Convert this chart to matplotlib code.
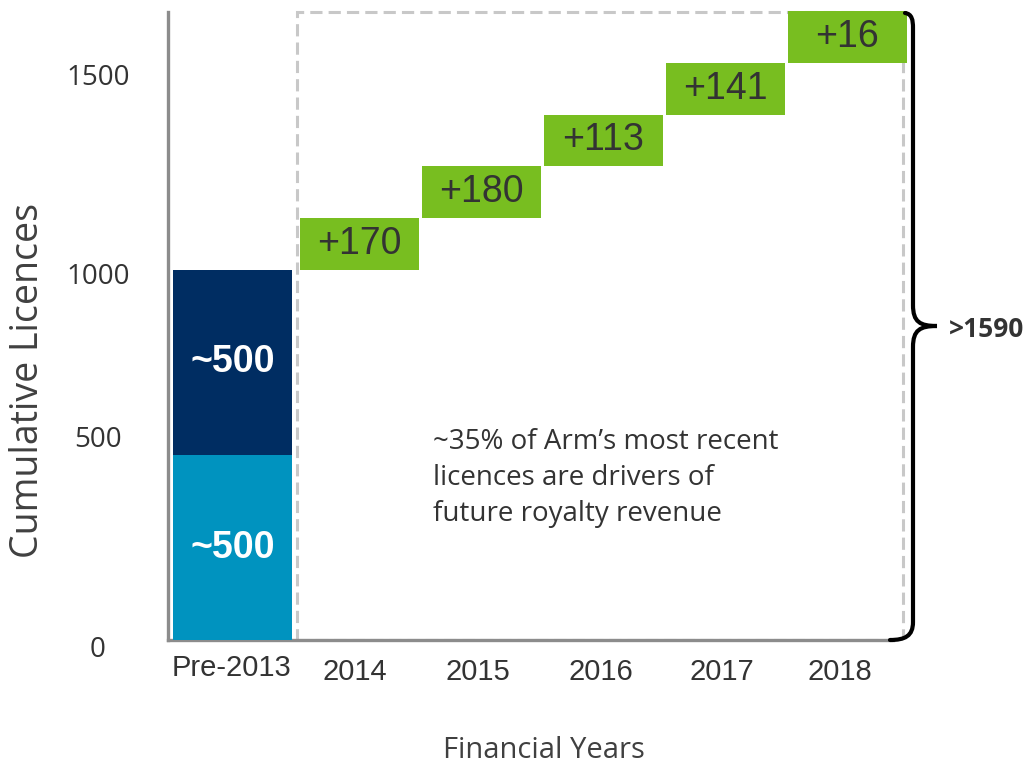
import matplotlib.pyplot as plt
import numpy as np
from matplotlib.patches import Rectangle, PathPatch
from matplotlib.path import Path

categories = ["Pre-2013", "2014", "2015", "2016", "2017", "2018"]
pre_lower = 500
pre_upper = 500
yearly_adds = [170, 180, 113, 141, 16]
total_label = ">1590"
note = "~35% of Arm\u2019s most recent\nlicences are drivers of\nfuture royalty revenue"

NAVY = "#002D62"
CYAN = "#0093BF"
GREEN = "#78BE20"
AXIS_GRAY = "#8C8C8C"
TEXT = "#333333"

W, H = 1035, 767
PX_PER_UNIT = 0.37      # vertical pixels per licence
PX_PER_CAT = 122        # horizontal pixels per category
STEP = 140              # display height of each yearly box (boxes are uniform)

fig = plt.figure(figsize=(W / 100, H / 100), dpi=100)
ax_l, ax_r, ax_t, ax_b = 168, 910, 8, 640
ax = fig.add_axes([ax_l / W, 1 - ax_b / H, (ax_r - ax_l) / W, (ax_b - ax_t) / H])
x0 = -(232.5 - ax_l) / PX_PER_CAT
ax.set_xlim(x0, x0 + (ax_r - ax_l) / PX_PER_CAT)
ax.set_ylim(0, (ax_b - ax_t) / PX_PER_UNIT)

xpos = np.r_[0, np.arange(1, len(categories)) + 0.04]

# pre-2013 stacked bar
ax.bar(xpos[0], pre_lower, width=0.98, color=CYAN, zorder=3)
ax.bar(xpos[0], pre_upper, bottom=pre_lower, width=0.98, color=NAVY, zorder=3)
ax.text(xpos[0], pre_lower / 2, f"~{pre_lower}", ha="center", va="center",
        color="white", fontsize=27, fontweight="bold", family="Liberation Sans", zorder=4)
ax.text(xpos[0], pre_lower + pre_upper / 2, f"~{pre_upper}", ha="center", va="center",
        color="white", fontsize=27, fontweight="bold", family="Liberation Sans", zorder=4)

# yearly additions, drawn as a uniform staircase
start = pre_lower + pre_upper
bottoms = start + STEP * np.arange(len(yearly_adds))
ax.bar(xpos[1:], STEP, bottom=bottoms, width=0.98, color=GREEN, zorder=3)
for x, b, v in zip(xpos[1:], bottoms, yearly_adds):
    ax.text(x, b + STEP / 2, f"+{v}", ha="center", va="center", color=TEXT,
            fontsize=27, family="Liberation Sans", zorder=4)

# dashed frame around the recent years
top = bottoms[-1] + STEP
ax.add_patch(Rectangle((0.529, 0), 5.496 - 0.529, top - 3, fill=False,
                       ec="#C8C8C8", lw=2.2, ls=(0, (4, 2)), zorder=2))

# axes styling
for s in ["top", "right"]:
    ax.spines[s].set_visible(False)
for s in ["left", "bottom"]:
    ax.spines[s].set_color(AXIS_GRAY)
    ax.spines[s].set_linewidth(2.4)
ax.spines["left"].set_bounds(0, (ax_b - 12) / PX_PER_UNIT)
ax.spines["bottom"].set_bounds(x0, (893 - 232.5) / PX_PER_CAT)
ax.set_xticks([])
ax.set_yticks([])

# y labels (placed as in the original slide)
ylabel_vals = [0, 500, 1000, 1500]
ylabel_px = [650, 440, 277, 78]
for v, py in zip(ylabel_vals, ylabel_px):
    fig.text(98 / W, 1 - py / H, str(v), ha="center", va="center", fontsize=20,
             family="Open Sans", color=TEXT)

# x labels
xlabel_px = [232, 355, 478, 601, 722, 840]
xlabel_py = [668, 672, 672, 672, 672, 672]
for lab, px, py in zip(categories, xlabel_px, xlabel_py):
    fig.text(px / W, 1 - py / H, lab, ha="center", va="center", fontsize=21,
             family="Liberation Sans", color=TEXT)

fig.text(28 / W, 1 - 381 / H, "Cumulative Licences", rotation=90, ha="center",
         va="center", fontsize=27, family="Open Sans", color="#404040")
fig.text(544 / W, 1 - 750 / H, "Financial Years", ha="center", va="center",
         fontsize=21, family="Open Sans", color="#404040")
fig.text(433 / W, 1 - 478 / H, note, ha="left", va="center", fontsize=20,
         family="Open Sans", color=TEXT, linespacing=1.38)

# brace on the right, in pixel space
def P(x, y):
    return (x / W, 1 - y / H)

verts = [P(905, 13), P(912, 14), P(913, 20), P(913, 28),
         P(913, 305),
         P(913, 322), P(920, 326), P(937, 326),
         P(920, 326), P(913, 330), P(913, 347),
         P(913, 622),
         P(913, 636), P(905, 640), P(890, 640)]
codes = ([Path.MOVETO] + [Path.CURVE4] * 3 + [Path.LINETO] + [Path.CURVE4] * 6
         + [Path.LINETO] + [Path.CURVE4] * 3)
fig.add_artist(PathPatch(Path(verts, codes), fill=False, lw=3, ec="black",
                         transform=fig.transFigure, capstyle="round"))
fig.text(949 / W, 1 - 330 / H, total_label, ha="left", va="center", fontsize=19,
         fontweight="bold", family="Open Sans", color=TEXT)

fig.savefig("out.png", dpi=100)
